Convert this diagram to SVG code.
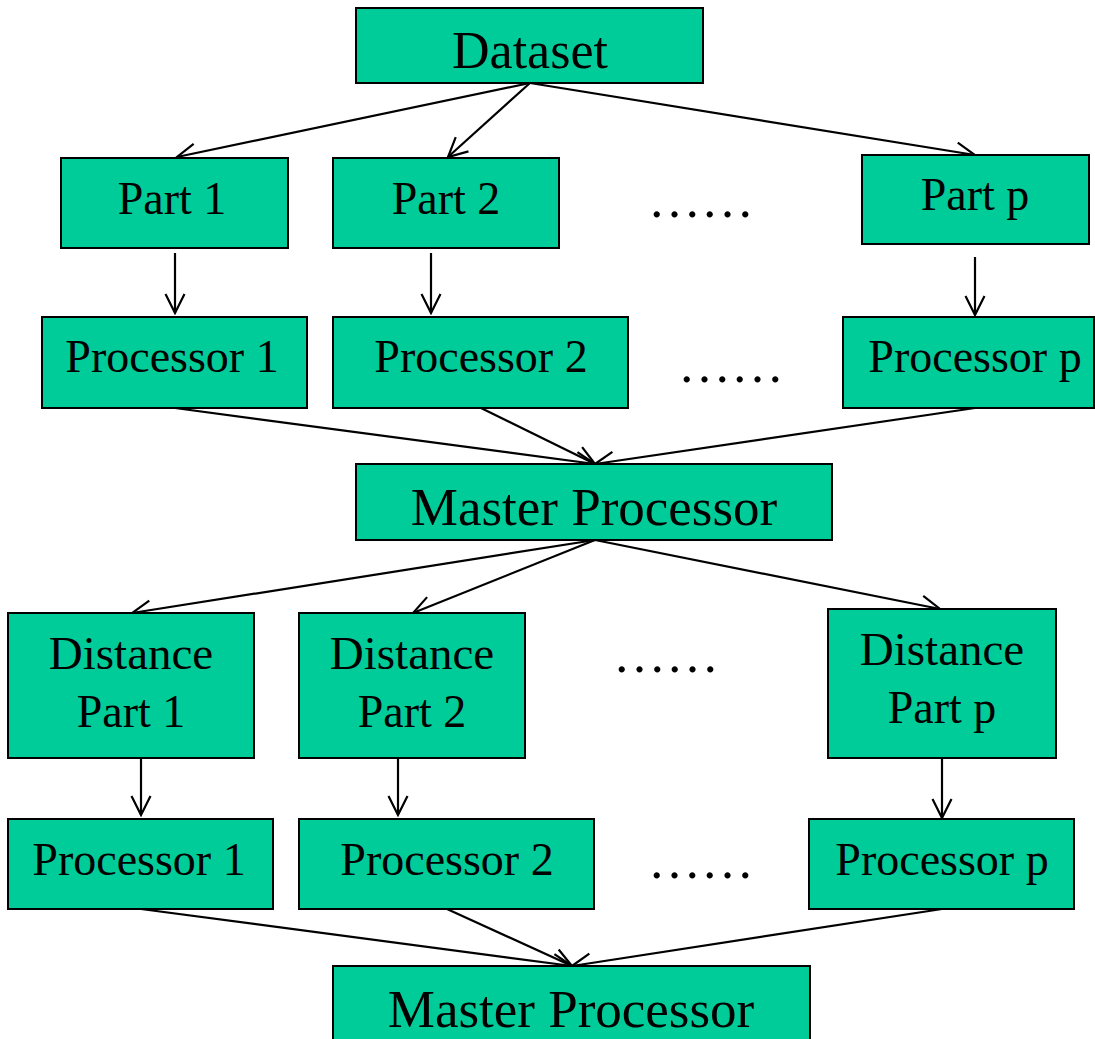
<svg xmlns="http://www.w3.org/2000/svg" width="1095" height="1039" viewBox="0 0 1095 1039">
<style>
  .box { fill: #00CC99; stroke: #000; stroke-width: 2; }
  .lbl { font-family: "Liberation Serif", "Times New Roman", serif; font-size: 46px; fill: #000; text-anchor: middle; }
  .big { font-size: 52px; }
  .dots { font-family: "Liberation Serif", "Times New Roman", serif; font-size: 53px; fill: #000; }
  .conn line { stroke: #000; stroke-width: 2.2; fill: none; marker-end: url(#arr); }
</style>
<defs>
  <marker id="arr" markerUnits="userSpaceOnUse" viewBox="0 0 22 22" refX="20" refY="11" markerWidth="22" markerHeight="22" orient="auto">
    <path d="M1,1.5 L20,11 L1,20.5" fill="none" stroke="#000" stroke-width="2.2"/>
  </marker>
</defs>
<rect width="1095" height="1039" fill="#fff"/>

<g class="conn">
  <line x1="530" y1="83" x2="177" y2="157"/>
  <line x1="530" y1="83" x2="448" y2="157"/>
  <line x1="530" y1="83" x2="975" y2="155"/>
  <line x1="175" y1="253" x2="175" y2="313"/>
  <line x1="431" y1="253" x2="431" y2="313"/>
  <line x1="975" y1="257" x2="975" y2="315"/>
  <line x1="175" y1="408" x2="595" y2="464"/>
  <line x1="481" y1="408" x2="595" y2="464"/>
  <line x1="975" y1="408" x2="595" y2="464"/>
  <line x1="595" y1="540" x2="132" y2="613"/>
  <line x1="595" y1="540" x2="413" y2="613"/>
  <line x1="595" y1="540" x2="940" y2="609"/>
  <line x1="141" y1="757" x2="141" y2="815"/>
  <line x1="398" y1="757" x2="398" y2="815"/>
  <line x1="942" y1="758" x2="942" y2="818"/>
  <line x1="141" y1="909" x2="572" y2="966"/>
  <line x1="447" y1="909" x2="572" y2="966"/>
  <line x1="942" y1="909" x2="572" y2="966"/>
</g>

<g id="dataset"><rect class="box" x="356" y="8" width="347" height="75"/><text class="lbl big" x="530" y="68">Dataset</text></g>
<g id="part1"><rect class="box" x="61" y="158" width="227" height="90"/><text class="lbl" x="172" y="214">Part 1</text></g>
<g id="part2"><rect class="box" x="333" y="158" width="226" height="90"/><text class="lbl" x="446" y="214">Part 2</text></g>
<g id="partp"><rect class="box" x="862" y="155" width="227" height="89"/><text class="lbl" x="975" y="210">Part p</text></g>
<g id="proc1a"><rect class="box" x="42" y="317" width="265" height="91"/><text class="lbl" x="172" y="372">Processor 1</text></g>
<g id="proc2a"><rect class="box" x="333" y="317" width="295" height="91"/><text class="lbl" x="481" y="372">Processor 2</text></g>
<g id="procpa"><rect class="box" x="843" y="317" width="251" height="91"/><text class="lbl" x="975" y="372">Processor p</text></g>
<g id="master1"><rect class="box" x="356" y="464" width="476" height="76"/><text class="lbl" style="font-size:53px" x="594" y="525">Master Processor</text></g>
<g id="dist1"><rect class="box" x="8" y="613" width="246" height="145"/><text class="lbl" style="font-size:47px" x="131" y="669">Distance</text><text class="lbl" x="131" y="727">Part 1</text></g>
<g id="dist2"><rect class="box" x="299" y="613" width="226" height="145"/><text class="lbl" style="font-size:47px" x="412" y="669">Distance</text><text class="lbl" x="412" y="727">Part 2</text></g>
<g id="distp"><rect class="box" x="828" y="609" width="228" height="149"/><text class="lbl" style="font-size:47px" x="942" y="665">Distance</text><text class="lbl" x="942" y="723">Part p</text></g>
<g id="proc1b"><rect class="box" x="8" y="819" width="265" height="90"/><text class="lbl" x="139" y="875">Processor 1</text></g>
<g id="proc2b"><rect class="box" x="299" y="819" width="295" height="90"/><text class="lbl" x="447" y="875">Processor 2</text></g>
<g id="procpb"><rect class="box" x="809" y="819" width="265" height="90"/><text class="lbl" x="942" y="875">Processor p</text></g>
<g id="master2"><rect class="box" x="333" y="966" width="477" height="80"/><text class="lbl" style="font-size:53px" x="571" y="1027">Master Processor</text></g>

<g id="ellipses">
  <text class="dots" x="648" y="217">……</text>
  <text class="dots" x="678" y="382">……</text>
  <text class="dots" x="613" y="672">……</text>
  <text class="dots" x="648" y="878">……</text>
</g>
</svg>
